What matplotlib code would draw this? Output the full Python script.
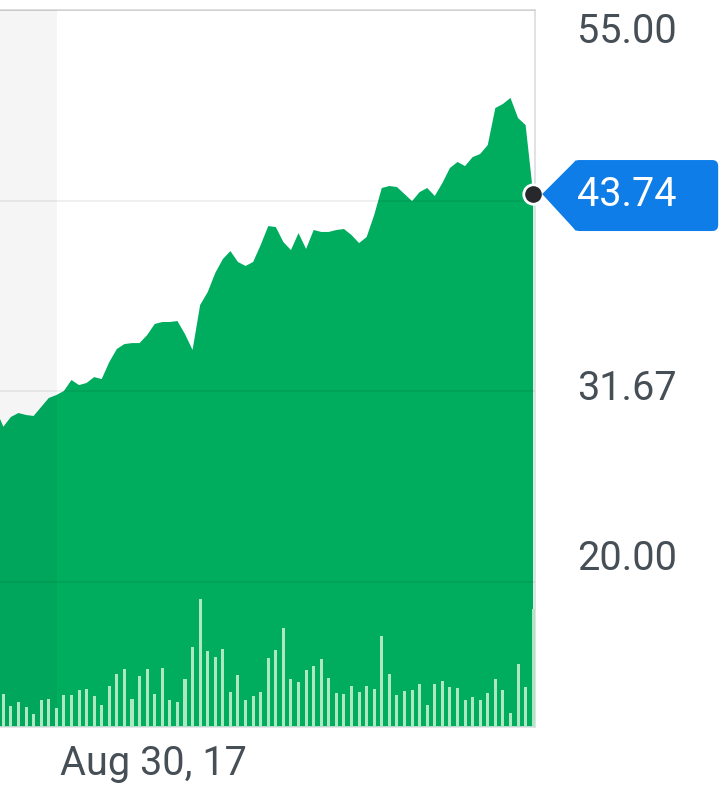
import numpy as np
import matplotlib
matplotlib.use('Agg')
import matplotlib.pyplot as plt
import matplotlib.patches as mpatches
import matplotlib.transforms as mtransforms

plt.rcParams['font.family'] = ['Roboto', 'DejaVu Sans']

# trading day index (day -1 sits just left of the visible window)
days = list(range(-1, 71))

price = [30.60, 29.50, 30.10, 30.34, 30.22, 30.16, 30.71, 31.26, 31.44, 31.69,
         32.36, 32.05, 32.18, 32.54, 32.42, 33.46, 34.26, 34.56, 34.62, 34.62,
         35.11, 35.79, 35.91, 35.91, 35.97, 35.17, 34.20, 36.95, 37.74, 38.91,
         39.76, 40.25, 39.58, 39.34, 39.58, 40.62, 41.78, 41.72, 40.80, 40.31,
         41.35, 40.38, 41.54, 41.42, 41.42, 41.54, 41.60, 41.23, 40.74, 41.11,
         42.46, 44.11, 44.23, 44.17, 43.74, 43.31, 43.86, 44.11, 43.62, 44.41,
         45.33, 45.70, 45.45, 46.00, 46.19, 46.74, 49.00, 49.25, 49.62, 48.39,
         47.96, 43.74]

# volume in millions
volume = [3.0,
          3.3, 2.1, 2.5, 2.0, 1.3, 2.7, 2.8, 1.9, 3.2, 3.2, 3.7, 3.8,
          3.1, 2.2, 4.1, 5.3, 5.8, 2.8, 5.1, 5.8, 3.3, 5.9, 2.7, 2.5,
          4.8, 8.0, 12.8, 7.6, 7.0, 7.8, 3.5, 5.2, 2.7, 3.1, 3.5, 6.9,
          7.7, 9.9, 4.8, 4.5, 5.7, 6.1, 6.8, 4.9, 3.4, 3.3, 4.1, 3.5,
          4.1, 3.8, 9.1, 5.3, 3.2, 3.6, 3.7, 4.3, 2.2, 4.3, 4.6, 4.0,
          3.9, 2.7, 3.0, 2.7, 3.4, 4.8, 3.7, 1.4, 6.3, 4.0, 11.8]

grid_vals = [55.00, 43.33, 31.67, 20.00]
label_vals = [55.00, 31.67, 20.00]
label_txt = ['55.00', '31.67', '20.00']
label_shift = [-22, 3, 24]          # pixels, label centre vs its gridline
date_pos = [19.8]
date_lbl = ['Aug 30, 17']
shade_end = 7.1                     # end of the grey shaded band

GREEN = '#00ad5f'
VOL = '#ade8c3'
TXT = '#464e56'
BLUE = '#0f7de8'
FS = 28.5

W, H = 720, 789
fig = plt.figure(figsize=(W / 100, H / 100), dpi=100)
ax = fig.add_axes([0, 62 / H, 535 / W, 717 / H])

ax.set_xlim(-0.44, 70.24)
ax.set_ylim(11.13, 55.0)

ax.fill_between(days, price, 0, color=GREEN, lw=0, zorder=2)

# grey band over the first days
ax.axvspan(-1, shade_end, color='black', alpha=0.04, lw=0, zorder=3)

for g in grid_vals:
    ax.axhline(g, color='black', alpha=0.08, lw=1.1, zorder=4)

ax.spines['left'].set_visible(False)
ax.spines['top'].set_color('#d9d9dd')
ax.spines['right'].set_color('#dcdce2')
ax.spines['bottom'].set_color('#e2e0e8')
for s in ['top', 'right', 'bottom']:
    ax.spines[s].set_linewidth(1.2)

ax.set_yticks([])
ax.set_xticks(date_pos)
ax.set_xticklabels(date_lbl, fontsize=FS, color=TXT)
ax.tick_params(axis='x', length=0, pad=12)

# volume bars on their own scale, drawn above the price area
axv = ax.twinx()
axv.bar(days, volume, width=0.4, color=VOL, lw=0, zorder=2)
axv.set_ylim(0, 71.7)
axv.set_xlim(-0.44, 70.24)
axv.set_yticks([])
for s in axv.spines.values():
    s.set_visible(False)

# right axis labels
lab_tr = mtransforms.blended_transform_factory(ax.transAxes, ax.transData)
for v, t, sh in zip(label_vals, label_txt, label_shift):
    ax.annotate(t, xy=(1.0785, v), xycoords=lab_tr, xytext=(0, sh),
                textcoords='offset pixels', ha='left', va='center',
                fontsize=FS, color=TXT, annotation_clip=False)

# last price marker + callout
px, py = ax.transData.transform((days[-1], price[-1]))
tip = px + 9
bx0, bx1 = px + 40, px + 185
by0, by1 = py - 37, py + 34
box = mpatches.FancyBboxPatch((bx0, by0), bx1 - bx0, by1 - by0,
                              boxstyle='round,pad=0,rounding_size=6',
                              transform=mtransforms.IdentityTransform(),
                              facecolor=BLUE, edgecolor='none', zorder=5)
arrow = mpatches.Polygon([(tip, py), (bx0 + 3, by1), (bx0 + 3, by0)],
                         closed=True, transform=mtransforms.IdentityTransform(),
                         facecolor=BLUE, edgecolor='none', zorder=5)
fig.add_artist(arrow)
fig.add_artist(box)
fig.text(bx0 + 4, py, f'{price[-1]:.2f}', transform=mtransforms.IdentityTransform(),
         ha='left', va='center', fontsize=FS, color='white', zorder=6)

# dot goes on the top axes so the volume layer does not cover it
axv.plot(days[-1], price[-1], 'o', transform=ax.transData,
         ms=14, mfc='#26282b', mec='white', mew=2, zorder=10, clip_on=False)

fig.savefig('out.png', dpi=100)
